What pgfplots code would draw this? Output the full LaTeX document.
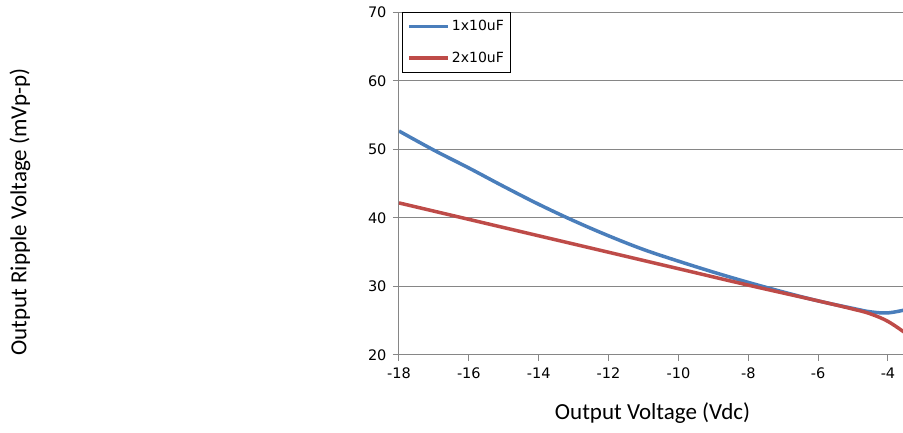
\documentclass[border=0pt]{standalone}
\usepackage{pgfplots}
\pgfplotsset{compat=1.18}
\usepackage{fontspec}
\setmainfont{Carlito}
\newfontfamily\dv{DejaVu Sans}
\definecolor{sblue}{RGB}{74,126,187}
\definecolor{sred}{RGB}{190,75,72}
\definecolor{gridg}{RGB}{134,134,134}
\begin{document}
\begin{tikzpicture}
\useasboundingbox (0,0) rectangle (903pt,433pt);
\begin{axis}[
  at={(399pt,78pt)}, anchor=south west,
  scale only axis, width=504pt, height=342.5pt,
  xmin=-18, xmax=-3.57, ymin=20, ymax=70,
  xtick={-18,-16,...,-4}, ytick={20,30,...,70},
  axis x line*=bottom, axis y line*=left,
  axis line style={gridg, line width=1pt, -},
  tick style={gridg, line width=1pt},
  tick align=outside, major tick length=6pt,
  ymajorgrids, grid style={gridg, line width=1pt},
  /pgf/number format/assume math mode=true,
  ticklabel style={font=\dv\fontsize{14.5}{16}\selectfont, text=black},
  xticklabel style={yshift=-3pt},
  yticklabel style={xshift=-3pt},
  xlabel={Output Voltage (Vdc)},
  ylabel={Output Ripple Voltage (mVp-p)},
  label style={font=\fontsize{23}{27}\selectfont},
  xlabel style={at={(axis description cs:0.503,-0.169)}, anchor=center},
  ylabel style={at={(axis description cs:-0.752,0.4175)}, anchor=center},
  legend style={at={(axis description cs:0.006,1.0015)}, anchor=north west,
    draw=black, line width=0.8pt, fill=white,
    font=\dv\fontsize{14}{16}\selectfont,
    inner xsep=5pt, inner ysep=6pt, row sep=16pt},
  legend cell align=left,
  legend image code/.code={\draw[#1, line width=3.5pt] (0pt,0pt) -- (39pt,0pt);},
]
\addplot[sblue, line width=3.5pt, smooth, tension=0.6] coordinates {
(-18,52.7) (-17,49.9) (-16,47.3) (-15,44.6) (-14,42.0) (-13,39.6) (-12,37.4)
(-11,35.4) (-10,33.7) (-9,32.1) (-8,30.6) (-7,29.2) (-6,27.9) (-5,26.8)
(-4.5,26.3) (-4,26.15) (-3.5,26.6)};
\addlegendentry{1x10uF}
\addplot[sred, line width=3.5pt, smooth, tension=0.6] coordinates {
(-18,42.2) (-16,39.8) (-14,37.4) (-12,35.0) (-10,32.6) (-8,30.2) (-6,27.9)
(-5,26.7) (-4.5,26.0) (-4,24.9) (-3.5,23.2)};
\addlegendentry{2x10uF}
\end{axis}
\end{tikzpicture}
\end{document}
